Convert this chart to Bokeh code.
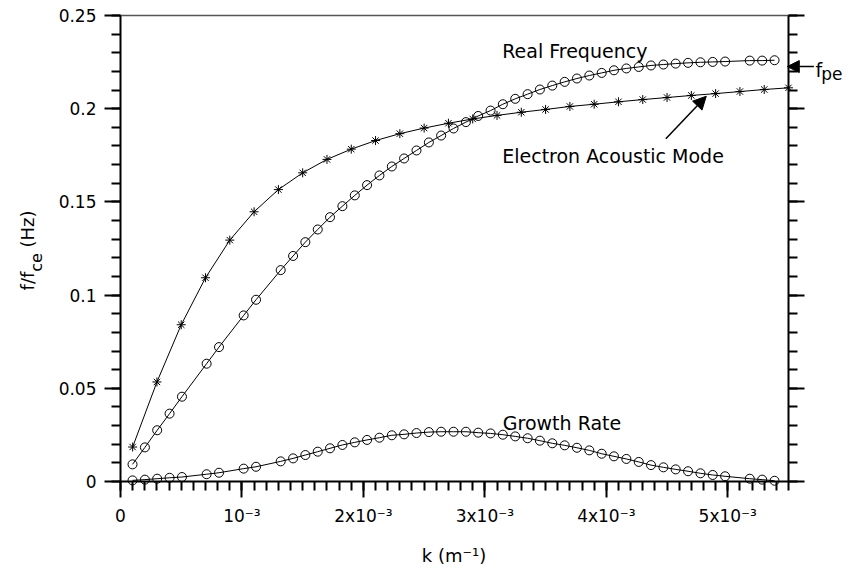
import math
from bokeh.plotting import figure
from bokeh.models import Range1d, LinearAxis, FixedTicker, Label, Arrow, NormalHead
from bokeh.embed import file_html
from bokeh.resources import INLINE

FONT = "DejaVu Sans"

# k values in units of 1e-3 m^-1
k_circ = [0.099, 0.201, 0.302, 0.404, 0.506, 0.709, 0.811, 1.014, 1.116,
          1.319, 1.421, 1.522, 1.624, 1.725, 1.827, 1.929, 2.030, 2.132, 2.234,
          2.335, 2.437, 2.539, 2.640, 2.742, 2.844, 2.945, 3.047, 3.148, 3.250,
          3.352, 3.453, 3.555, 3.657, 3.758, 3.860, 3.962, 4.063, 4.165, 4.267,
          4.368, 4.470, 4.571, 4.673, 4.775, 4.876, 4.978, 5.181, 5.283, 5.385]
real_freq = [0.0092, 0.0183, 0.0275, 0.0364, 0.0455, 0.0632, 0.0721, 0.0891, 0.0975,
             0.1134, 0.1210, 0.1284, 0.1352, 0.1418, 0.1477, 0.1535, 0.1590, 0.1642, 0.1690,
             0.1733, 0.1776, 0.1819, 0.1856, 0.1894, 0.1928, 0.1961, 0.1990, 0.2024, 0.2053,
             0.2078, 0.2103, 0.2124, 0.2144, 0.2162, 0.2178, 0.2192, 0.2206, 0.2216, 0.2224,
             0.2232, 0.2237, 0.2242, 0.2246, 0.2249, 0.2251, 0.2253, 0.2258, 0.2258, 0.2260]
growth_rate = [0.0006, 0.0010, 0.0015, 0.0020, 0.0024, 0.0039, 0.0047, 0.0069, 0.0079,
               0.0108, 0.0124, 0.0142, 0.0160, 0.0178, 0.0196, 0.0210, 0.0223, 0.0235, 0.0248,
               0.0253, 0.0260, 0.0265, 0.0267, 0.0267, 0.0267, 0.0262, 0.0258, 0.0251, 0.0242,
               0.0232, 0.0219, 0.0205, 0.0194, 0.0181, 0.0167, 0.0149, 0.0135, 0.0121, 0.0105,
               0.0088, 0.0076, 0.0065, 0.0055, 0.0044, 0.0035, 0.0028, 0.0015, 0.0010, 0.0004]

k_star = [0.1, 0.3, 0.5, 0.7, 0.9, 1.1, 1.3, 1.5, 1.7, 1.9, 2.1, 2.3, 2.5, 2.7,
          2.9, 3.1, 3.3, 3.5, 3.7, 3.9, 4.1, 4.3, 4.5, 4.7, 4.9, 5.1, 5.3, 5.5]
ea_mode = [0.0185, 0.0534, 0.0841, 0.1093, 0.1295, 0.1447, 0.1566, 0.1656, 0.1728,
           0.1783, 0.1829, 0.1866, 0.1896, 0.1922, 0.1945, 0.1964, 0.1981, 0.1996,
           0.2012, 0.2024, 0.2037, 0.2049, 0.2060, 0.2071, 0.2081, 0.2092, 0.2103, 0.2112]

x_ticks = [0, 1, 2, 3, 4, 5]
x_tick_labels = ["0", "10⁻³", "2x10⁻³", "3x10⁻³", "4x10⁻³", "5x10⁻³"]
y_ticks = [0, 0.05, 0.1, 0.15, 0.2, 0.25]
y_tick_labels = ["0", "0.05", "0.1", "0.15", "0.2", "0.25"]
x_minor = [i / 10 for i in range(56)]
y_minor = [i / 100 for i in range(26)]
X_MAX = 5.5
Y_MAX = 0.25

# the frame fills the whole canvas; the visible box is drawn by fixed-location axes
W, H = 848, 566
L, R, T, B = 120, 788, 15, 481
sx = (R - L) / X_MAX
sy = (B - T) / Y_MAX
p = figure(width=W, height=H,
           x_range=Range1d(-L / sx, (W - L) / sx),
           y_range=Range1d(-(H - B) / sy, Y_MAX + T / sy),
           output_backend="svg", toolbar_location=None, min_border=0)
p.title.visible = False
p.xgrid.visible = False
p.ygrid.visible = False
p.outline_line_color = None


def style_axis(ax, ticks, minor, labels=None):
    ax.ticker = FixedTicker(ticks=ticks, minor_ticks=minor)
    ax.axis_line_color = "black"
    ax.axis_line_width = 2
    ax.major_tick_line_color = "black"
    ax.minor_tick_line_color = "black"
    ax.major_tick_line_width = 2
    ax.minor_tick_line_width = 2
    ax.major_tick_in = 0
    ax.major_tick_out = 16
    ax.minor_tick_in = 0
    ax.minor_tick_out = 9
    ax.major_label_text_font = FONT
    ax.major_label_text_font_size = "17px"
    ax.major_label_text_color = "black"
    ax.major_label_standoff = 8
    if labels is not None:
        ax.major_label_overrides = dict(zip(ticks, labels))


xa = p.xaxis[0]
style_axis(xa, x_ticks, x_minor, x_tick_labels)
xa.fixed_location = 0
xa.bounds = (0, X_MAX)

ya = p.yaxis[0]
style_axis(ya, y_ticks, y_minor, y_tick_labels)
ya.fixed_location = 0
ya.bounds = (0, Y_MAX)

ra = LinearAxis(fixed_location=X_MAX, bounds=(0, Y_MAX))
style_axis(ra, y_ticks, y_minor)
ra.major_label_text_color = None
p.add_layout(ra, "right")

ta = LinearAxis(fixed_location=Y_MAX, bounds=(0, X_MAX),
                ticker=FixedTicker(ticks=[], minor_ticks=[]),
                axis_line_color="#555555", axis_line_width=1.5,
                major_tick_out=0, minor_tick_out=0, major_tick_in=0, minor_tick_in=0,
                major_label_text_color=None)
p.add_layout(ta, "above")

# series
p.line(k_circ, real_freq, line_color="black", line_width=1)
p.scatter(k_circ, real_freq, marker="circle", size=9, fill_color=None,
          line_color="black", line_width=1)
p.line(k_circ, growth_rate, line_color="black", line_width=1)
p.scatter(k_circ, growth_rate, marker="circle", size=9, fill_color=None,
          line_color="black", line_width=1)
p.line(k_star, ea_mode, line_color="black", line_width=1)
p.scatter(k_star, ea_mode, marker="asterisk", size=9, line_color="black", line_width=1)


def lab(text, x, y, size, angle=0.0, align="left"):
    p.add_layout(Label(x=x, y=y, text=text, text_font=FONT, text_font_size=size,
                       text_color="black", text_align=align,
                       text_baseline="alphabetic", angle=angle))


lab("Real Frequency", 3.143, 0.2311, "19px")
lab("Electron Acoustic Mode", 3.143, 0.1747, "19px")
lab("Growth Rate", 3.148, 0.0313, "19px")

# f_pe marker at the right edge
lab("f", 5.7225, 0.2209, "19px")
lab("pe", 5.7695, 0.2187, "17px")
p.add_layout(Arrow(end=NormalHead(size=12, fill_color="black", line_color="black"),
                   x_start=5.709, y_start=0.2226, x_end=5.49, y_end=0.2226,
                   line_color="black", line_width=1.5))

# arrow to electron acoustic mode
p.add_layout(Arrow(end=NormalHead(size=13, fill_color="black", line_color="black"),
                   x_start=4.490, y_start=0.1839, x_end=4.823, y_end=0.2067,
                   line_color="black", line_width=1.5))

# axis titles
lab("k (m⁻¹)", 2.746, -0.0397, "18px", align="center")
lab("f/f", -0.7657, 0.1025, "18px", angle=math.pi / 2)
lab("ce", -0.6916, 0.1125, "16px", angle=math.pi / 2)
lab("(Hz)", -0.7657, 0.1255, "18px", angle=math.pi / 2)

open("out.html", "w").write(file_html(p, INLINE))
